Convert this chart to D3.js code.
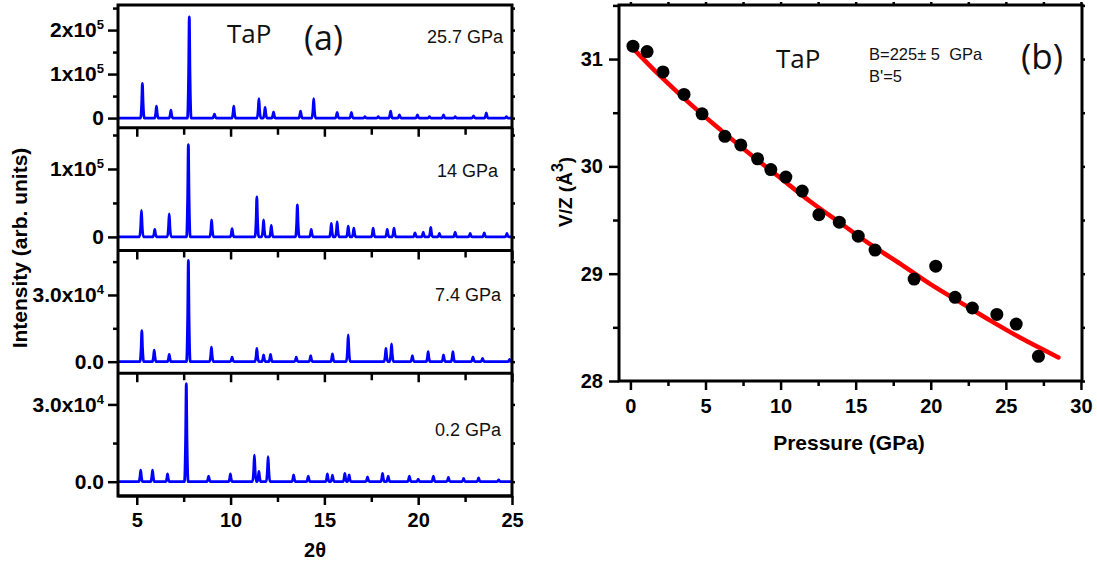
<!DOCTYPE html>
<html>
<head>
<meta charset="utf-8">
<script src="https://cdnjs.cloudflare.com/ajax/libs/d3/7.8.5/d3.min.js"></script>
<style>
body { margin: 0; background: #fff; }
svg { display: block; }
</style>
</head>
<body>
<svg id="chart" width="1097" height="574"></svg>
<script>
// PANEL (a) DATA - XRD peaks, [2theta, intensity]
const pressureLabels = ['25.7 GPa', '14 GPa', '7.4 GPa', '0.2 GPa']

const peaks257 = [
    [5.30, 0.79e5], [6.05, 0.27e5], [6.82, 0.18e5], [7.80, 2.30e5], [9.14, 0.09e5],
    [10.17, 0.27e5], [11.51, 0.44e5], [11.84, 0.24e5], [12.29, 0.14e5], [13.73, 0.16e5],
    [14.43, 0.44e5], [15.68, 0.13e5], [16.44, 0.13e5], [17.16, 0.03e5], [17.87, 0.03e5],
    [18.53, 0.16e5], [19.00, 0.07e5], [19.96, 0.07e5], [20.60, 0.03e5], [21.35, 0.07e5],
    [21.97, 0.03e5], [22.95, 0.05e5], [23.63, 0.12e5], [24.70, 0.03e5]
]
const peaks14 = [
    [5.25, 0.39e5], [5.96, 0.11e5], [6.73, 0.34e5], [7.75, 1.36e5], [8.99, 0.25e5],
    [10.08, 0.12e5], [11.40, 0.59e5], [11.76, 0.25e5], [12.17, 0.17e5], [13.56, 0.47e5],
    [14.30, 0.11e5], [15.37, 0.20e5], [15.68, 0.22e5], [16.27, 0.16e5], [16.57, 0.13e5],
    [17.60, 0.13e5], [18.35, 0.11e5], [18.71, 0.13e5], [19.83, 0.06e5], [20.27, 0.07e5],
    [20.67, 0.14e5], [21.13, 0.05e5], [21.97, 0.07e5], [22.77, 0.05e5], [23.52, 0.06e5],
    [24.73, 0.05e5]
]
const peaks74 = [
    [5.27, 1.40e4], [5.93, 0.52e4], [6.73, 0.33e4], [7.75, 4.55e4], [8.98, 0.65e4],
    [10.08, 0.20e4], [11.40, 0.60e4], [11.76, 0.30e4], [12.13, 0.33e4], [13.50, 0.20e4],
    [14.27, 0.27e4], [15.43, 0.35e4], [16.27, 1.20e4], [18.28, 0.60e4], [18.58, 0.80e4],
    [19.69, 0.27e4], [20.53, 0.45e4], [21.35, 0.30e4], [21.85, 0.45e4], [22.92, 0.22e4],
    [23.43, 0.15e4], [24.87, 0.10e4]
]
const peaks02 = [
    [5.21, 0.45e4], [5.84, 0.45e4], [6.64, 0.30e4], [7.64, 3.81e4], [8.83, 0.22e4],
    [9.99, 0.30e4], [11.27, 1.03e4], [11.51, 0.40e4], [12.00, 0.97e4], [13.36, 0.26e4],
    [14.14, 0.22e4], [15.16, 0.30e4], [15.43, 0.25e4], [16.09, 0.32e4], [16.32, 0.26e4],
    [17.30, 0.19e4], [18.10, 0.32e4], [18.40, 0.22e4], [19.53, 0.22e4], [20.00, 0.10e4],
    [20.81, 0.22e4], [21.61, 0.17e4], [22.42, 0.13e4], [23.22, 0.15e4], [24.29, 0.07e4]
]
const patterns = [peaks257, peaks14, peaks74, peaks02]

const xDomainA = [4, 25]
const xTicksA = [5, 10, 15, 20, 25]
const xMinorA = [7.5, 12.5, 17.5, 22.5]
const yDomainsA = [[-0.22e5, 2.57e5], [-0.2e5, 1.607e5], [-0.52e4, 5.0e4], [-0.555e4, 4.21e4]]
const yTicksA = [[0, 1e5, 2e5], [0, 1e5], [0, 3e4], [0, 3e4]]
const yTickLabelsA = [['0', '1x10^5', '2x10^5'], ['0', '1x10^5'], ['0.0', '3.0x10^4'], ['0.0', '3.0x10^4']]
const yMinorA = [[0.5e5, 1.5e5, 2.5e5], [0.5e5, 1.5e5], [1.5e4, 4.5e4], [1.5e4]]

// PANEL (b) DATA - V/Z vs pressure
const pressure = [0.17, 1.11, 2.17, 3.57, 4.77, 6.29, 7.35, 8.47, 9.35, 10.35, 11.44,
    12.55, 13.91, 15.17, 16.29, 18.89, 20.33, 21.62, 22.77, 24.40, 25.69, 27.17]
const volume = [31.12, 31.07, 30.88, 30.67, 30.49, 30.28, 30.20, 30.07, 29.97, 29.90, 29.77,
    29.55, 29.48, 29.35, 29.22, 28.95, 29.07, 28.78, 28.68, 28.62, 28.53, 28.23]
const fitPressure = [0.1, 2, 4, 6, 8, 10, 12, 14, 16, 18, 20, 22, 24, 26, 28.5]
const fitVolume = [31.11, 30.84, 30.58, 30.34, 30.11, 29.89, 29.67, 29.47, 29.27, 29.09,
    28.90, 28.73, 28.56, 28.40, 28.22]
const xDomainB = [-0.76, 30.07]
const xTicksB = [0, 5, 10, 15, 20, 25, 30]
const xMinorB = [2.5, 7.5, 12.5, 17.5, 22.5, 27.5]
const yDomainB = [28, 31.5]
const yTicksB = [28, 29, 30, 31]
const yMinorB = [28.5, 29.5, 30.5, 31.5]

const FONT = "'Liberation Sans', Arial, sans-serif"
const FONT2 = "'Open Sans', 'Noto Sans', sans-serif"

let svg = d3.select('#chart')

// helpers
function styleAxis(g) {
    g.select('.domain').remove()
    g.selectAll('line').attr('stroke', '#000').attr('stroke-width', 2.5)
    g.selectAll('text')
        .attr('fill', '#000')
        .attr('font-family', FONT)
        .attr('font-weight', 'bold')
}

function supText(sel, label) {
    sel.text(null)
    let parts = label.split('^')
    sel.append('tspan').text(parts[0])
    if (parts.length > 1) {
        sel.append('tspan').attr('dy', '-0.6em').attr('font-size', '0.62em').text(parts[1])
    }
}

function profile(peaks) {
    let hw = 0.1
    let pts = [[xDomainA[0], 0]]
    peaks.forEach(p => {
        pts.push([p[0] - hw, 0], [p[0] - hw * 0.35, p[1] * 0.45], [p[0], p[1]],
            [p[0] + hw * 0.35, p[1] * 0.45], [p[0] + hw, 0])
    })
    pts.push([xDomainA[1], 0])
    return pts
}

// ---------------- PANEL (a) ----------------
let aLeft = 118, aRight = 512, aTop = 5, aBottom = 496
let panelH = (aBottom - aTop) / 4

let xA = d3.scaleLinear().domain(xDomainA).range([aLeft, aRight])

patterns.forEach((peaks, i) => {
    let top = aTop + i * panelH
    let bottom = top + panelH
    let y = d3.scaleLinear().domain(yDomainsA[i]).range([bottom, top])

    // LEFT AXIS
    let gy = svg.append('g')
        .attr('transform', `translate(${aLeft},0)`)
        .call(d3.axisLeft(y).tickValues(yTicksA[i]).tickSize(10).tickPadding(4))
        .attr('font-size', 21)
    styleAxis(gy)
    gy.selectAll('.tick text').each(function(d, k) {
        supText(d3.select(this), yTickLabelsA[i][k])
    })
    let gym = svg.append('g')
        .attr('transform', `translate(${aLeft},0)`)
        .call(d3.axisLeft(y).tickValues(yMinorA[i]).tickSize(5).tickFormat(''))
    styleAxis(gym)

    // RIGHT small ticks
    let gyr = svg.append('g')
        .attr('transform', `translate(${aRight},0)`)
        .call(d3.axisRight(y).tickValues(yTicksA[i].concat(yMinorA[i])).tickSize(3).tickFormat(''))
    styleAxis(gyr)

    // TOP TICKS (inside) for lower panels
    if (i > 0) {
        let gt = svg.append('g')
            .attr('transform', `translate(0,${top})`)
            .call(d3.axisTop(xA).tickValues(xTicksA).tickSize(-9).tickFormat(''))
        styleAxis(gt)
        let gtm = svg.append('g')
            .attr('transform', `translate(0,${top})`)
            .call(d3.axisTop(xA).tickValues(xMinorA).tickSize(-7).tickFormat(''))
        styleAxis(gtm)
    }

    // PATTERN LINE
    let line = d3.line()
        .x(d => xA(d[0]))
        .y(d => y(d[1]))
        .curve(d3.curveMonotoneX)
    svg.append('path')
        .datum(profile(peaks))
        .attr('d', line)
        .attr('fill', 'none')
        .attr('stroke', '#0000ff')
        .attr('stroke-width', 2.8)
        .attr('stroke-linejoin', 'round')

    // PRESSURE LABEL
    let labelY = [43, 177, 301, 436]
    let labelX = [503, 498, 501, 501]
    svg.append('text')
        .attr('x', labelX[i])
        .attr('y', labelY[i])
        .attr('text-anchor', 'end')
        .attr('font-family', FONT)
        .attr('font-size', 18)
        .attr('fill', '#111')
        .text(pressureLabels[i])

    // PANEL FRAME LINE
    svg.append('line')
        .attr('x1', aLeft).attr('x2', aRight)
        .attr('y1', bottom).attr('y2', bottom)
        .attr('stroke', '#000').attr('stroke-width', 3)
})

// BOTTOM AXIS (a)
let gxA = svg.append('g')
    .attr('transform', `translate(0,${aBottom})`)
    .call(d3.axisBottom(xA).tickValues(xTicksA).tickSize(9).tickPadding(8))
    .attr('font-size', 20)
styleAxis(gxA)
let gxAm = svg.append('g')
    .attr('transform', `translate(0,${aBottom})`)
    .call(d3.axisBottom(xA).tickValues(xMinorA).tickSize(6).tickFormat(''))
styleAxis(gxAm)

svg.append('rect')
    .attr('x', aLeft).attr('y', aTop)
    .attr('width', aRight - aLeft).attr('height', aBottom - aTop)
    .attr('fill', 'none').attr('stroke', '#000').attr('stroke-width', 3)

// TITLES (a)
svg.append('text')
    .attr('x', 315).attr('y', 557)
    .attr('text-anchor', 'middle')
    .attr('font-family', FONT).attr('font-weight', 'bold').attr('font-size', 20)
    .text('2θ')

svg.append('text')
    .attr('transform', 'translate(27,248) rotate(-90)')
    .attr('text-anchor', 'middle')
    .attr('font-family', FONT).attr('font-weight', 'bold').attr('font-size', 21)
    .text('Intensity (arb. units)')

svg.append('text')
    .attr('x', 227).attr('y', 43)
    .attr('font-family', FONT2).attr('font-size', 26).attr('fill', '#111')
    .text('TaP')

svg.append('text')
    .attr('x', 304).attr('y', 50)
    .attr('font-family', FONT2).attr('font-size', 34).attr('fill', '#111')
    .text('(a)')

// ---------------- PANEL (b) ----------------
let bLeft = 619, bRight = 1082, bTop = 5, bBottom = 381

let xB = d3.scaleLinear().domain(xDomainB).range([bLeft, bRight])
let yB = d3.scaleLinear().domain(yDomainB).range([bBottom, bTop + 0.4])

let gxB = svg.append('g')
    .attr('transform', `translate(0,${bBottom})`)
    .call(d3.axisBottom(xB).tickValues(xTicksB).tickSize(9).tickPadding(9))
    .attr('font-size', 20)
styleAxis(gxB)
let gxBm = svg.append('g')
    .attr('transform', `translate(0,${bBottom})`)
    .call(d3.axisBottom(xB).tickValues(xMinorB).tickSize(5).tickFormat(''))
styleAxis(gxBm)

let gyB = svg.append('g')
    .attr('transform', `translate(${bLeft},0)`)
    .call(d3.axisLeft(yB).tickValues(yTicksB).tickSize(10).tickPadding(6).tickFormat(d3.format('d')))
    .attr('font-size', 20)
styleAxis(gyB)
let gyBm = svg.append('g')
    .attr('transform', `translate(${bLeft},0)`)
    .call(d3.axisLeft(yB).tickValues(yMinorB).tickSize(6).tickFormat(''))
styleAxis(gyBm)

// top / right small ticks
let gtB = svg.append('g')
    .attr('transform', `translate(0,${bTop})`)
    .call(d3.axisTop(xB).tickValues(xTicksB.concat(xMinorB)).tickSize(3).tickFormat(''))
styleAxis(gtB)
let grB = svg.append('g')
    .attr('transform', `translate(${bRight},0)`)
    .call(d3.axisRight(yB).tickValues(yTicksB.concat(yMinorB)).tickSize(3).tickFormat(''))
styleAxis(grB)

svg.append('rect')
    .attr('x', bLeft).attr('y', bTop)
    .attr('width', bRight - bLeft).attr('height', bBottom - bTop)
    .attr('fill', 'none').attr('stroke', '#000').attr('stroke-width', 3)

// FIT LINE
let fitLine = d3.line()
    .x((d, k) => xB(fitPressure[k]))
    .y(d => yB(d))
    .curve(d3.curveMonotoneX)
svg.append('path')
    .datum(fitVolume)
    .attr('d', fitLine)
    .attr('fill', 'none')
    .attr('stroke', '#ff0000')
    .attr('stroke-width', 4.5)
    .attr('stroke-linecap', 'round')

// POINTS
svg.append('g')
    .selectAll('circle')
    .data(pressure)
    .join('circle')
        .attr('cx', d => xB(d))
        .attr('cy', (d, k) => yB(volume[k]))
        .attr('r', 6.5)
        .attr('fill', '#000')

// TITLES (b)
svg.append('text')
    .attr('x', 849).attr('y', 450)
    .attr('text-anchor', 'middle')
    .attr('font-family', FONT).attr('font-weight', 'bold').attr('font-size', 21)
    .text('Pressure (GPa)')

let yLab = svg.append('text')
    .attr('transform', 'translate(572,227) rotate(-90)')
    .attr('font-family', FONT).attr('font-weight', 'bold').attr('font-size', 19)
yLab.append('tspan').text('V/Z (Å')
yLab.append('tspan').attr('dy', '-0.55em').attr('font-size', '0.85em').text('3')
yLab.append('tspan').attr('dy', '0.47em').text(')')

svg.append('text')
    .attr('x', 776).attr('y', 68)
    .attr('font-family', FONT2).attr('font-size', 26).attr('fill', '#111')
    .text('TaP')

svg.append('text')
    .attr('x', 869).attr('y', 60)
    .style('white-space', 'pre')
    .attr('font-family', FONT).attr('font-size', 16.5).attr('fill', '#111')
    .text('B=225± 5  GPa')

svg.append('text')
    .attr('x', 869).attr('y', 82)
    .attr('font-family', FONT).attr('font-size', 16.5).attr('fill', '#111')
    .text("B'=5")

svg.append('text')
    .attr('x', 1021).attr('y', 69)
    .attr('font-family', FONT2).attr('font-size', 35).attr('fill', '#111')
    .text('(b)')
</script>
</body>
</html>
